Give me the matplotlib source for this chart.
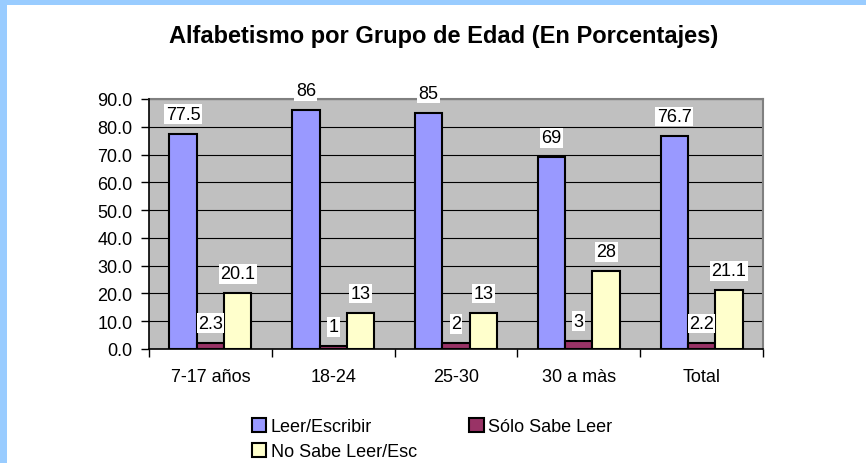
import matplotlib
matplotlib.use("Agg")
import matplotlib.pyplot as plt
from matplotlib.patches import Patch, Rectangle
import numpy as np

plt.rcParams['font.family'] = ['Liberation Sans', 'DejaVu Sans']

categories = ["7-17 años", "18-24", "25-30", "30 a màs", "Total"]
series_names = ["Leer/Escribir", "Sólo Sabe Leer", "No Sabe Leer/Esc"]
leer_escribir = [77.5, 86, 85, 69, 76.7]
solo_leer = [2.3, 1, 2, 3, 2.2]
no_sabe = [20.1, 13, 13, 28, 21.1]
label_texts = [["77.5", "86", "85", "69", "76.7"],
               ["2.3", "1", "2", "3", "2.2"],
               ["20.1", "13", "13", "28", "21.1"]]
yticks = [0, 10, 20, 30, 40, 50, 60, 70, 80, 90]
colors = ["#9999FF", "#993366", "#FFFFCC"]

FS = 13

fig = plt.figure(figsize=(8.66, 4.64), dpi=100)
fig.patch.set_facecolor("white")
# blue frame strips (top and left)
fig.add_artist(Rectangle((0, 1 - 6 / 464), 1, 6 / 464, transform=fig.transFigure,
                         facecolor="#99CCFF", edgecolor="none", zorder=0))
fig.add_artist(Rectangle((0, 0), 7 / 866, 1, transform=fig.transFigure,
                         facecolor="#99CCFF", edgecolor="none", zorder=0))

ax = fig.add_axes([149 / 866, 1 - 350 / 464, (763 - 149) / 866, 250 / 464])
ax.set_facecolor("#C0C0C0")

n = len(categories)
x = np.arange(n)
bw = 1 / 4.5
data = [leer_escribir, solo_leer, no_sabe]
for i, vals in enumerate(data):
    pos = x + (i - 1) * bw
    ax.bar(pos, vals, width=bw, color=colors[i], edgecolor="black",
           linewidth=1.5, zorder=3)
    for j, v in enumerate(vals):
        ax.annotate(label_texts[i][j], (pos[j], v), xytext=(0, 14),
                    textcoords="offset points", ha="center", va="center",
                    fontsize=FS, zorder=5, annotation_clip=False,
                    bbox=dict(boxstyle="square,pad=0.08", facecolor="white",
                              edgecolor="none"))

ax.set_xlim(-0.5, n - 0.5)
ax.set_ylim(0, 90)
ax.set_yticks(yticks)
ax.set_yticklabels([f"{t:.1f}" for t in yticks], fontsize=FS)
ax.yaxis.grid(True, color="black", linewidth=0.8, zorder=1)
ax.set_axisbelow(True)

ax.set_xticks(np.arange(n + 1) - 0.5)
ax.set_xticklabels([])
ax.set_xticks(x, minor=True)
ax.set_xticklabels(categories, minor=True, fontsize=FS)
ax.tick_params(axis="x", which="minor", length=0, pad=14)
ax.tick_params(axis="x", which="major", length=6, width=1, color="black", direction="out")
ax.tick_params(axis="y", length=6, width=1, color="black", direction="out", pad=6)

for s in ["top", "right"]:
    ax.spines[s].set_color("#808080")
    ax.spines[s].set_linewidth(1.5)
for s in ["left", "bottom"]:
    ax.spines[s].set_color("black")
    ax.spines[s].set_linewidth(1.2)
ax.spines["left"].set_zorder(4)
ax.spines["bottom"].set_zorder(4)

fig.text(444 / 866, 1 - 37 / 464, "Alfabetismo por Grupo de Edad (En Porcentajes)",
         ha="center", va="center", fontsize=17, fontweight="bold")

handles = [Patch(facecolor=colors[0], edgecolor="black", linewidth=1.5),
           Patch(facecolor=colors[2], edgecolor="black", linewidth=1.5),
           Patch(facecolor=colors[1], edgecolor="black", linewidth=1.5)]
labels = [series_names[0], series_names[2], series_names[1]]
fig.legend(handles, labels, ncol=2, loc="upper left",
           bbox_to_anchor=(252 / 866, 1 - 419 / 464), frameon=False,
           fontsize=FS, handlelength=0.8, handleheight=0.8,
           handletextpad=0.25, columnspacing=2.9, labelspacing=0.44,
           borderpad=0, borderaxespad=0)

fig.savefig("out.png", dpi=100, facecolor="white")
